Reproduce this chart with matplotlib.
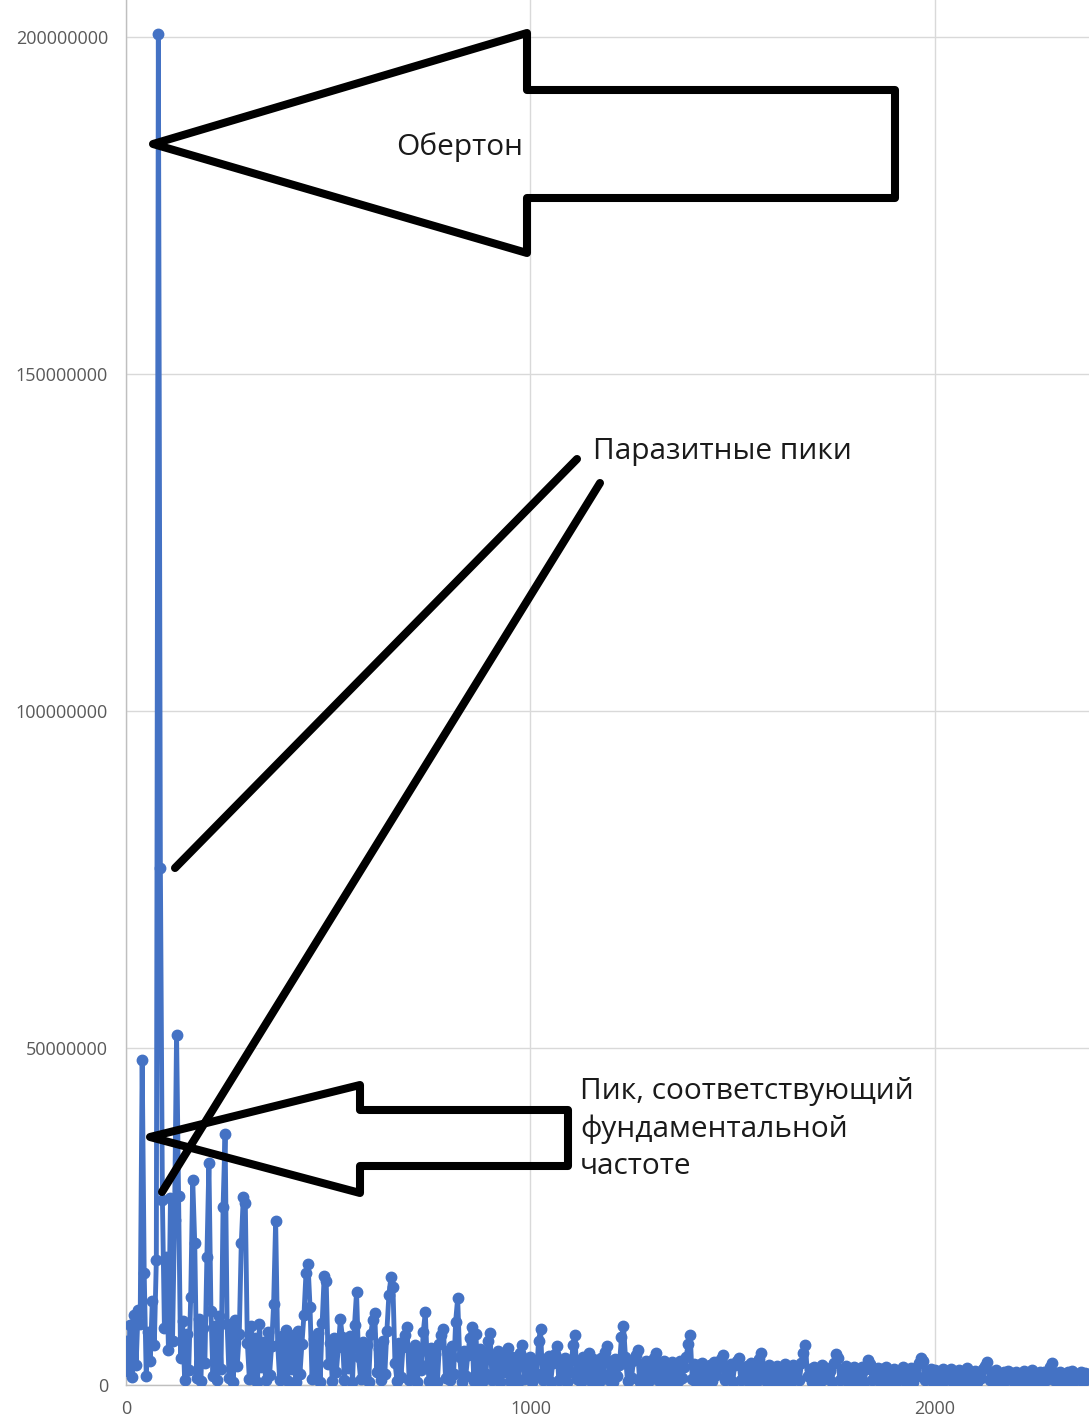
import numpy as np
import matplotlib
matplotlib.use("Agg")
import matplotlib.pyplot as plt
from matplotlib.patches import Polygon

plt.rcParams["font.family"] = ["Open Sans", "DejaVu Sans"]
# keep every zig-zag vertex of the dense spectrum trace
plt.rcParams["path.simplify"] = False

# Spectrum magnitude, one value per 5 Hz bin, in millions
bin_width_hz = 5

amp_0_495 = [
    6.5, 2.1, 8.9, 1.2, 10.4, 3.0, 11.2, 9.0, 48.2, 16.6,
    1.4, 7.8, 3.5, 12.5, 6.0, 18.5, 200.5, 76.7, 27.5, 8.4,
    19.0, 5.2, 27.8, 6.5, 24.5, 52.0, 28.0, 4.0, 9.5, 0.8,
    7.6, 2.2, 13.0, 30.4, 21.0, 1.1, 9.8, 0.6, 8.4, 3.2,
    19.0, 33.0, 11.0, 1.3, 8.8, 0.7, 10.2, 2.4, 26.4, 37.2,
    9.0, 1.0, 8.1, 0.5, 9.6, 2.8, 7.5, 21.0, 27.9, 27.0,
    6.2, 0.9, 8.7, 1.8, 7.0, 0.4, 9.1, 2.6, 6.4, 0.8,
    7.9, 1.5, 5.8, 12.0, 24.3, 6.0, 0.7, 7.3, 1.9, 8.2,
    0.6, 6.9, 2.3, 7.4, 0.5, 8.0, 1.6, 6.1, 10.4, 16.6,
    18.0, 11.6, 0.9, 6.8, 1.4, 7.7, 0.5, 9.2, 16.2, 15.4,
]

amp_500_995 = [
    3.1, 6.3, 0.6, 7.0, 1.9, 5.6, 9.8, 7.1, 0.8, 6.0,
    2.5, 7.2, 0.4, 8.9, 13.8, 4.1, 0.9, 6.4, 1.3, 5.9,
    0.5, 7.5, 9.6, 10.7, 2.0, 5.4, 0.7, 6.6, 1.7, 8.0,
    13.4, 16.0, 14.6, 3.3, 0.6, 6.2, 1.2, 5.7, 7.4, 8.6,
    0.8, 5.2, 1.5, 6.0, 0.4, 4.8, 2.2, 7.9, 10.8, 3.0,
    0.6, 5.5, 1.8, 4.6, 0.5, 6.1, 7.4, 8.3, 1.0, 5.0,
    0.7, 5.8, 1.6, 9.4, 12.9, 4.2, 0.5, 5.1, 1.3, 4.4,
    7.0, 8.6, 0.6, 7.6, 2.0, 5.3, 0.4, 4.9, 1.7, 6.5,
    7.7, 0.8, 4.5, 1.2, 5.0, 0.5, 3.9, 1.9, 4.6, 5.5,
    0.6, 4.2, 1.4, 3.6, 0.4, 4.8, 6.0, 0.9, 3.8, 1.3,
]

amp_1000_1495 = [
    4.1, 0.5, 3.5, 1.6, 6.5, 8.3, 0.7, 3.9, 1.1, 4.3,
    0.4, 3.2, 4.6, 5.8, 0.8, 3.7, 1.3, 4.0, 0.5, 3.4,
    1.9, 6.0, 7.4, 0.9, 3.6, 0.4, 4.2, 1.5, 3.3, 4.7,
    0.6, 3.8, 1.2, 3.1, 0.5, 4.0, 1.7, 4.9, 5.8, 0.8,
    3.5, 0.4, 3.9, 1.4, 3.0, 7.1, 8.8, 4.1, 0.6, 3.3,
    1.1, 3.7, 4.4, 5.2, 0.5, 3.1, 1.6, 3.6, 0.4, 2.9,
    1.2, 4.0, 4.7, 0.7, 3.2, 0.5, 3.6, 1.3, 2.8, 0.4,
    3.4, 1.8, 3.0, 0.6, 3.5, 1.0, 2.7, 4.2, 6.1, 7.4,
    0.9, 3.1, 0.5, 2.9, 1.4, 3.3, 0.4, 2.6, 1.1, 3.0,
    0.6, 3.4, 1.5, 2.7, 3.9, 4.5, 0.7, 2.8, 1.2, 3.1,
]

amp_1500_1995 = [
    0.5, 2.9, 3.6, 4.0, 0.8, 2.5, 1.3, 2.8, 0.4, 3.2,
    1.0, 2.6, 0.6, 3.9, 4.7, 1.4, 2.7, 0.5, 3.0, 1.2,
    2.4, 0.4, 2.8, 1.1, 2.5, 0.6, 3.1, 1.5, 2.3, 0.4,
    2.9, 1.0, 2.6, 0.7, 3.2, 4.8, 5.9, 1.3, 2.4, 0.5,
    2.7, 1.2, 2.2, 0.4, 2.9, 0.9, 2.5, 1.4, 2.1, 0.5,
    3.3, 4.6, 4.0, 0.8, 2.4, 1.1, 2.8, 0.4, 2.3, 1.3,
    2.6, 0.6, 2.2, 1.0, 2.7, 0.4, 2.4, 3.7, 3.1, 0.7,
    2.0, 1.2, 2.5, 0.5, 2.3, 0.9, 2.6, 0.4, 2.1, 1.1,
    2.4, 0.5, 2.0, 1.3, 2.6, 0.6, 2.2, 0.9, 2.5, 0.4,
    2.3, 1.4, 3.2, 4.0, 3.5, 0.7, 2.1, 1.0, 2.4, 0.5,
]

amp_2000_2380 = [
    2.2, 1.1, 1.9, 0.4, 2.3, 0.8, 2.0, 1.3, 2.4, 0.5,
    1.8, 1.0, 2.2, 0.4, 2.0, 0.9, 2.5, 0.6, 1.9, 1.2,
    2.1, 0.4, 1.8, 1.0, 2.3, 2.8, 3.4, 0.7, 1.9, 0.5,
    2.2, 1.1, 1.7, 0.4, 2.0, 0.8, 2.1, 1.2, 1.8, 0.5,
    2.0, 0.9, 1.7, 0.4, 2.1, 1.0, 1.8, 0.6, 2.2, 0.5,
    1.6, 1.1, 2.0, 0.4, 1.9, 0.8, 1.7, 2.6, 3.3, 0.7,
    1.8, 0.5, 2.0, 1.0, 1.7, 0.4, 1.9, 0.9, 2.1, 0.6,
    1.6, 1.1, 1.9, 0.5, 1.8, 0.9, 1.7,
]

y_ticks = [0, 50000000, 100000000, 150000000, 200000000]
x_ticks = [0, 1000, 2000]

amplitude = np.concatenate([amp_0_495, amp_500_995, amp_1000_1495,
                            amp_1500_1995, amp_2000_2380]) * 1e6
freq = np.arange(len(amplitude)) * bin_width_hz

W, H = 1089, 1421
fig = plt.figure(figsize=(W / 100, H / 100), dpi=100)
ax = fig.add_axes([126 / W, 36 / H, 1 - 126 / W, 1 - 36 / H])

blue = "#4472C4"
ax.plot(freq, amplitude, color=blue, lw=3.5, marker="o", ms=7.5,
        mfc=blue, mec=blue, solid_joinstyle="round", zorder=3)

ax.set_xlim(0, 2381)
ax.set_ylim(0, 205.5e6)
ax.set_xticks(x_ticks)
ax.set_xticklabels([str(v) for v in x_ticks])
ax.set_yticks(y_ticks)
ax.set_yticklabels([str(v) for v in y_ticks])
ax.grid(True, color="#d9d9d9", lw=1.0, zorder=0)
ax.set_axisbelow(True)
for side in ("top", "right"):
    ax.spines[side].set_visible(False)
for side in ("left", "bottom"):
    ax.spines[side].set_color("#bfbfbf")
    ax.spines[side].set_linewidth(1.0)
ax.tick_params(axis="both", length=0, labelcolor="#595959", labelsize=13)
ax.tick_params(axis="y", pad=13)
ax.tick_params(axis="x", pad=11)

# Hand-drawn call-outs in pixel space on top of the chart
ov = fig.add_axes([0, 0, 1, 1])
ov.set_xlim(0, W)
ov.set_ylim(H, 0)
ov.axis("off")
ov.patch.set_alpha(0)

stroke = dict(fill=False, ec="black", lw=5.8, joinstyle="round", zorder=5)

big_arrow = [(153, 144), (527, 33), (527, 90), (895, 90), (895, 198),
             (527, 198), (527, 253)]
ov.add_patch(Polygon(big_arrow, closed=True, **stroke))

small_arrow = [(150, 1137), (360, 1085), (360, 1110), (568, 1110),
               (568, 1166), (360, 1166), (360, 1193)]
ov.add_patch(Polygon(small_arrow, closed=True, **stroke))

ov.plot([175, 577], [868, 459], color="black", lw=5.8,
        solid_capstyle="round", zorder=5)
ov.plot([162, 600], [1192, 483], color="black", lw=5.8,
        solid_capstyle="round", zorder=5)

txt = dict(color="#1a1a1a", fontsize=21.5, ha="left", va="center", zorder=6)
ov.text(396, 147, "Обертон", **txt)
ov.text(593, 452, "Паразитные пики", **txt)
ov.text(580, 1129, "Пик, соответствующий\nфундаментальной\nчастоте",
        linespacing=1.37, **txt)

fig.savefig("out.png", dpi=100)
